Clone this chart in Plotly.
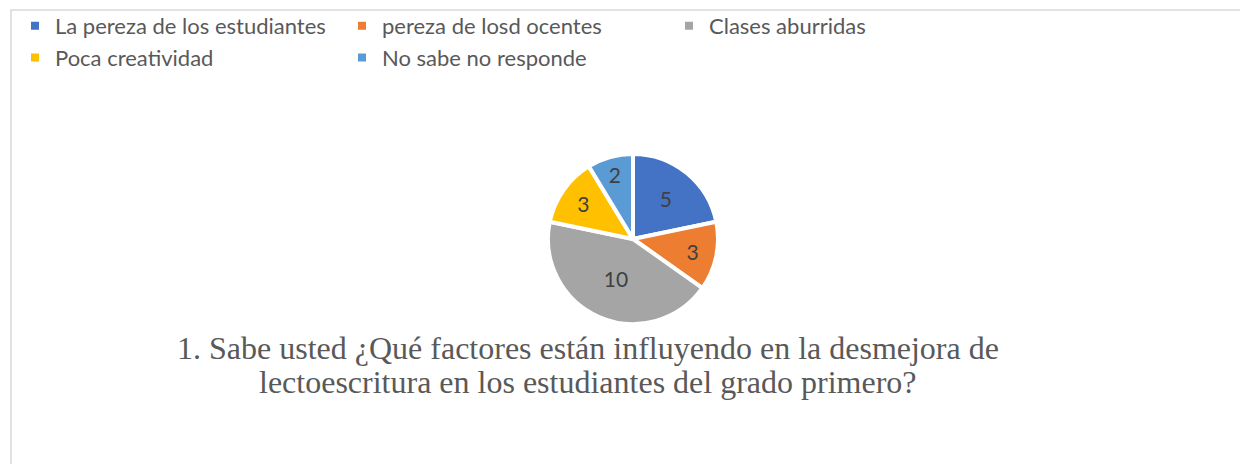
import plotly.graph_objects as go

W, H = 1248, 464
OFF = 8  # page body margin

categories = ["La pereza de los estudiantes", "pereza de losd ocentes", "Clases aburridas",
              "Poca creatividad", "No sabe no responde"]
values = [5, 3, 10, 3, 2]
colors = ["#4472C4", "#ED7D31", "#A5A5A5", "#FFC000", "#5B9BD5"]
title_lines = ["1. Sabe usted ¿Qué factores están influyendo en la desmejora de",
               "lectoescritura en los estudiantes del grado primero?"]

cx, cy, r = 633 - OFF, 239 - OFF, 85

fig = go.Figure()
fig.add_trace(go.Pie(
    labels=categories,
    values=values,
    marker=dict(colors=colors, line=dict(color="white", width=4)),
    sort=False,
    direction="clockwise",
    rotation=0,
    textinfo="value",
    textposition="inside",
    insidetextorientation="horizontal",
    textfont=dict(family="Lato", size=21, color="#404040"),
    domain=dict(x=[(cx - r) / W, (cx + r) / W], y=[1 - (cy + r) / H, 1 - (cy - r) / H]),
    showlegend=True,
    hoverinfo="label+value",
))

annotations = []
for i, line in enumerate(title_lines):
    ycen = [348, 382][i] - OFF
    annotations.append(dict(
        text=line, x=(588 - OFF) / W, y=1 - ycen / H, xref="paper", yref="paper",
        xanchor="center", yanchor="middle", showarrow=False, align="center",
        font=dict(family="Liberation Serif", size=32, color="#595959"),
    ))

fig.update_layout(
    width=W, height=H,
    margin=dict(l=0, r=0, t=0, b=0, autoexpand=False),
    paper_bgcolor="white",
    legend=dict(
        orientation="h",
        x=7 / W, y=1 + 3 / H, xanchor="left", yanchor="top",
        entrywidth=282, entrywidthmode="pixels",
        font=dict(family="Lato", size=22, color="#595959"),
        traceorder="normal",
        itemclick=False, itemdoubleclick=False,
        bgcolor="rgba(0,0,0,0)",
    ),
    annotations=annotations,
    shapes=[dict(
        type="rect", xref="paper", yref="paper",
        x0=(11 - OFF) / W, x1=1.02, y0=-0.05, y1=1 - (10 - OFF) / H,
        line=dict(color="#D9D9D9", width=1.5), fillcolor="rgba(0,0,0,0)", layer="below",
    )],
)

fig.write_html("out.html")
